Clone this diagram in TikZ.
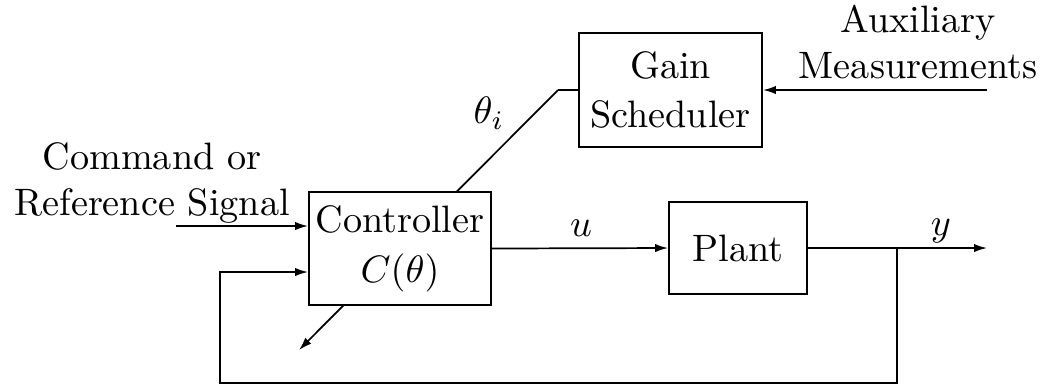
\documentclass[tikz,border=0pt]{standalone}
\usetikzlibrary{arrows.meta,backgrounds}
\begin{document}
\begin{tikzpicture}[x=0.2618pt,y=-0.2618pt,
  blk/.style={draw=black,line width=0.5pt,fill=white,inner sep=0pt,align=center},
  lbl/.style={inner sep=0pt,align=center},
  arr/.style={-{Latex[length=3.4pt,width=2.2pt]}},
  wire/.style={line width=0.45pt}]
\useasboundingbox (0,0) rectangle (1045,387);
% blocks
\node[blk,minimum width=182*0.2618pt,minimum height=113*0.2618pt] (c) at (400,248.5) {Controller\\[1pt]$C(\theta)$};
\node[blk,minimum width=183*0.2618pt,minimum height=114*0.2618pt] (g) at (670.5,90) {Gain\\[1pt]Scheduler};
\node[blk,minimum width=138*0.2618pt,minimum height=92*0.2618pt] (p) at (738,248) {Plant};
% free labels
\node[lbl] (cmd) at (152,183) {Command or\\Reference Signal};
\node[lbl] (auxl) at (918,42) {Auxiliary\\Measurements};
\node[lbl] (thl) at (489,113) {$\theta_i$};
\node[lbl] (ul) at (581,228) {$u$};
\node[lbl] (yl) at (941,231) {$y$};
% coordinates
\coordinate (in) at (176,226);
\coordinate (aux) at (987,90);
\coordinate (yout) at (987,248);
\coordinate (br) at (897,248);
\coordinate (fb2) at (220,383);
\coordinate (fb3) at (220,272);
\coordinate (bend) at (558,90);
\coordinate (tip) at (299,350);
% connectors
\draw[wire,arr] (in) -- (in -| c.west);
\draw[wire,arr] (aux) -- (g.east);
\draw[wire,arr] (c.east) -- (p.west);
\draw[wire,arr] (p.east) -- (yout);
\draw[wire,arr] (br) |- (fb2) |- (c.west |- fb3);
\draw[wire] (g.west) -- (bend);
\begin{pgfonlayer}{background}
\draw[wire,arr] (bend) -- (tip);
\end{pgfonlayer}
\end{tikzpicture}
\end{document}
